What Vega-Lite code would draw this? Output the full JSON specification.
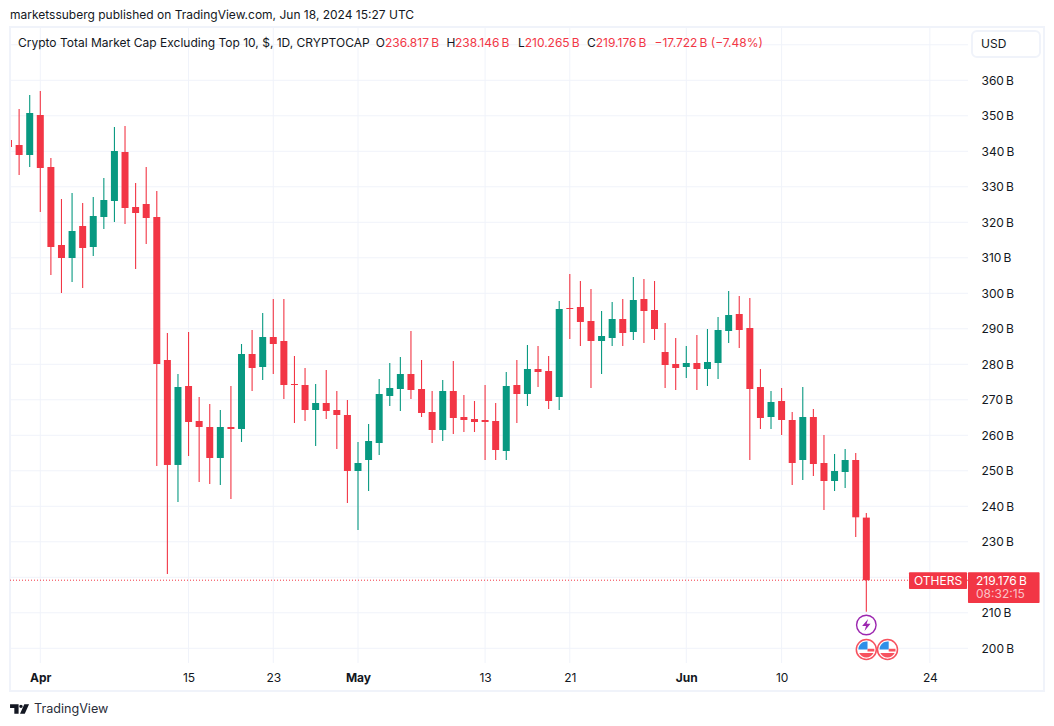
{
  "$schema": "https://vega.github.io/schema/vega-lite/v6.json",
  "autosize": {"type": "fit", "contains": "padding"},
  "padding": 0,
  "width": 1054,
  "height": 726,
  "background": "#ffffff",
  "config": {"font": "Inter", "view": {"stroke": null}},
  "datasets": {
    "candles": [
      {"date": "2024-03-29", "open": 343.18, "high": 344.5, "low": 340.0, "close": 341.21},
      {"date": "2024-03-30", "open": 341.77, "high": 351.92, "low": 333.32, "close": 338.96},
      {"date": "2024-03-31", "open": 338.96, "high": 355.86, "low": 335.58, "close": 350.79},
      {"date": "2024-04-01", "open": 350.23, "high": 356.99, "low": 322.9, "close": 335.3},
      {"date": "2024-04-02", "open": 335.58, "high": 338.11, "low": 305.16, "close": 313.04},
      {"date": "2024-04-03", "open": 313.61, "high": 326.56, "low": 300.08, "close": 309.94},
      {"date": "2024-04-04", "open": 309.94, "high": 328.25, "low": 303.18, "close": 317.55},
      {"date": "2024-04-05", "open": 318.96, "high": 325.44, "low": 301.49, "close": 312.76},
      {"date": "2024-04-06", "open": 313.04, "high": 327.13, "low": 310.51, "close": 321.77},
      {"date": "2024-04-07", "open": 321.49, "high": 332.48, "low": 318.11, "close": 326.28},
      {"date": "2024-04-08", "open": 326.0, "high": 346.85, "low": 320.08, "close": 340.08},
      {"date": "2024-04-09", "open": 339.8, "high": 347.13, "low": 319.52, "close": 324.03},
      {"date": "2024-04-10", "open": 324.31, "high": 331.07, "low": 306.85, "close": 322.62},
      {"date": "2024-04-11", "open": 325.16, "high": 335.58, "low": 313.89, "close": 321.21},
      {"date": "2024-04-12", "open": 321.49, "high": 328.82, "low": 251.36, "close": 280.09},
      {"date": "2024-04-13", "open": 281.21, "high": 288.82, "low": 220.93, "close": 251.64},
      {"date": "2024-04-14", "open": 251.64, "high": 277.27, "low": 241.21, "close": 273.61},
      {"date": "2024-04-15", "open": 273.89, "high": 289.1, "low": 254.17, "close": 263.75},
      {"date": "2024-04-16", "open": 264.03, "high": 270.79, "low": 246.85, "close": 262.34},
      {"date": "2024-04-17", "open": 262.34, "high": 268.82, "low": 246.29, "close": 253.61},
      {"date": "2024-04-18", "open": 253.61, "high": 267.13, "low": 246.0, "close": 262.34},
      {"date": "2024-04-19", "open": 262.34, "high": 273.89, "low": 242.06, "close": 261.78},
      {"date": "2024-04-20", "open": 261.78, "high": 285.72, "low": 258.12, "close": 282.9},
      {"date": "2024-04-21", "open": 282.9, "high": 289.67, "low": 272.48, "close": 278.96},
      {"date": "2024-04-22", "open": 279.24, "high": 294.45, "low": 275.58, "close": 287.69},
      {"date": "2024-04-23", "open": 287.69, "high": 298.4, "low": 277.27, "close": 285.72},
      {"date": "2024-04-24", "open": 286.57, "high": 298.4, "low": 270.23, "close": 274.17},
      {"date": "2024-04-25", "open": 274.45, "high": 282.34, "low": 263.47, "close": 274.17},
      {"date": "2024-04-26", "open": 274.17, "high": 278.96, "low": 264.03, "close": 267.13},
      {"date": "2024-04-27", "open": 267.13, "high": 274.45, "low": 256.99, "close": 269.1},
      {"date": "2024-04-28", "open": 269.1, "high": 278.4, "low": 264.6, "close": 266.85},
      {"date": "2024-04-29", "open": 267.13, "high": 272.48, "low": 256.14, "close": 265.72},
      {"date": "2024-04-30", "open": 265.72, "high": 269.95, "low": 240.93, "close": 249.95},
      {"date": "2024-05-01", "open": 249.94, "high": 258.11, "low": 233.32, "close": 252.2},
      {"date": "2024-05-02", "open": 253.04, "high": 263.18, "low": 244.31, "close": 258.39},
      {"date": "2024-05-03", "open": 257.83, "high": 275.86, "low": 254.45, "close": 271.63},
      {"date": "2024-05-04", "open": 271.07, "high": 280.37, "low": 268.25, "close": 273.32},
      {"date": "2024-05-05", "open": 273.04, "high": 282.06, "low": 266.84, "close": 277.27},
      {"date": "2024-05-06", "open": 277.27, "high": 289.38, "low": 270.23, "close": 272.76},
      {"date": "2024-05-07", "open": 273.04, "high": 281.21, "low": 265.15, "close": 266.28},
      {"date": "2024-05-08", "open": 266.56, "high": 272.48, "low": 257.83, "close": 261.49},
      {"date": "2024-05-09", "open": 261.49, "high": 275.58, "low": 258.39, "close": 272.48},
      {"date": "2024-05-10", "open": 272.48, "high": 280.93, "low": 260.37, "close": 264.87},
      {"date": "2024-05-11", "open": 265.15, "high": 271.35, "low": 260.93, "close": 264.31},
      {"date": "2024-05-12", "open": 264.59, "high": 269.66, "low": 260.93, "close": 263.75},
      {"date": "2024-05-13", "open": 264.31, "high": 274.17, "low": 253.04, "close": 263.75},
      {"date": "2024-05-14", "open": 264.03, "high": 269.1, "low": 253.04, "close": 255.86},
      {"date": "2024-05-15", "open": 255.58, "high": 277.83, "low": 253.04, "close": 273.89},
      {"date": "2024-05-16", "open": 274.17, "high": 281.21, "low": 263.46, "close": 271.63},
      {"date": "2024-05-17", "open": 271.63, "high": 285.44, "low": 268.25, "close": 278.68},
      {"date": "2024-05-18", "open": 278.68, "high": 285.15, "low": 273.61, "close": 277.83},
      {"date": "2024-05-19", "open": 278.11, "high": 282.34, "low": 267.41, "close": 269.66},
      {"date": "2024-05-20", "open": 270.79, "high": 297.83, "low": 267.13, "close": 295.58},
      {"date": "2024-05-21", "open": 295.86, "high": 305.44, "low": 287.13, "close": 295.58},
      {"date": "2024-05-22", "open": 296.14, "high": 303.46, "low": 285.15, "close": 291.92},
      {"date": "2024-05-23", "open": 292.2, "high": 301.21, "low": 273.32, "close": 286.56},
      {"date": "2024-05-24", "open": 286.56, "high": 295.01, "low": 277.27, "close": 287.97},
      {"date": "2024-05-25", "open": 287.41, "high": 297.55, "low": 285.15, "close": 292.76},
      {"date": "2024-05-26", "open": 292.76, "high": 298.39, "low": 285.15, "close": 288.82},
      {"date": "2024-05-27", "open": 289.1, "high": 304.59, "low": 286.84, "close": 298.11},
      {"date": "2024-05-28", "open": 298.39, "high": 304.03, "low": 286.0, "close": 295.01},
      {"date": "2024-05-29", "open": 295.3, "high": 303.46, "low": 286.84, "close": 289.94},
      {"date": "2024-05-30", "open": 283.46, "high": 291.63, "low": 273.32, "close": 279.8},
      {"date": "2024-05-31", "open": 280.08, "high": 287.41, "low": 272.76, "close": 278.96},
      {"date": "2024-06-01", "open": 279.24, "high": 285.15, "low": 276.14, "close": 280.37},
      {"date": "2024-06-02", "open": 280.36, "high": 288.25, "low": 272.76, "close": 278.67},
      {"date": "2024-06-03", "open": 278.67, "high": 289.94, "low": 273.88, "close": 280.64},
      {"date": "2024-06-04", "open": 280.36, "high": 293.32, "low": 275.86, "close": 289.66},
      {"date": "2024-06-05", "open": 289.38, "high": 300.64, "low": 286.0, "close": 293.88},
      {"date": "2024-06-06", "open": 294.17, "high": 299.24, "low": 284.59, "close": 289.66},
      {"date": "2024-06-07", "open": 290.22, "high": 298.67, "low": 253.04, "close": 273.04},
      {"date": "2024-06-08", "open": 273.6, "high": 278.67, "low": 261.77, "close": 264.87},
      {"date": "2024-06-09", "open": 265.15, "high": 272.48, "low": 261.77, "close": 269.38},
      {"date": "2024-06-10", "open": 269.66, "high": 273.32, "low": 260.08, "close": 264.31},
      {"date": "2024-06-11", "open": 264.31, "high": 266.56, "low": 246.0, "close": 252.19},
      {"date": "2024-06-12", "open": 253.04, "high": 273.6, "low": 247.41, "close": 265.15},
      {"date": "2024-06-13", "open": 265.15, "high": 267.41, "low": 248.53, "close": 251.91},
      {"date": "2024-06-14", "open": 252.19, "high": 260.08, "low": 238.95, "close": 247.12},
      {"date": "2024-06-15", "open": 247.12, "high": 254.73, "low": 244.31, "close": 249.94},
      {"date": "2024-06-16", "open": 249.66, "high": 256.14, "low": 245.15, "close": 253.04},
      {"date": "2024-06-17", "open": 253.04, "high": 255.01, "low": 231.35, "close": 236.9},
      {"date": "2024-06-18", "open": 236.817, "high": 238.146, "low": 210.265, "close": 219.176}
    ],
    "notes": [
      {"at": "2024-03-29T03:22:00Z", "price": 378.4, "label": "marketssuberg published on TradingView.com, Jun 18, 2024 15:27 UTC", "tone": "ink"},
      {"at": "2024-03-29T21:27:00Z", "price": 370.5, "label": "Crypto Total Market Cap Excluding Top 10, $, 1D, CRYPTOCAP", "tone": "ink"},
      {"at": "2024-05-02T16:00:00Z", "price": 370.5, "label": "O", "tone": "ink"},
      {"at": "2024-05-03T13:00:00Z", "price": 370.5, "label": "236.817\u2009B", "tone": "red"},
      {"at": "2024-05-09T08:40:00Z", "price": 370.5, "label": "H", "tone": "ink"},
      {"at": "2024-05-10T03:50:00Z", "price": 370.5, "label": "238.146\u2009B", "tone": "red"},
      {"at": "2024-05-16T02:30:00Z", "price": 370.5, "label": "L", "tone": "ink"},
      {"at": "2024-05-16T17:45:00Z", "price": 370.5, "label": "210.265\u2009B", "tone": "red"},
      {"at": "2024-05-22T15:00:00Z", "price": 370.5, "label": "C", "tone": "ink"},
      {"at": "2024-05-23T10:50:00Z", "price": 370.5, "label": "219.176\u2009B", "tone": "red"},
      {"at": "2024-05-29T00:00:00Z", "price": 370.5, "label": "−17.722\u2009B (−7.48%)", "tone": "red"},
      {"at": "2024-06-28T19:55:00Z", "price": 370.2, "label": "USD", "tone": "ink"},
      {"at": "2024-06-22T12:00:00Z", "price": 218.96, "label": "OTHERS", "tone": "white"},
      {"at": "2024-06-28T08:38:00Z", "price": 218.96, "label": "219.176\u2009B", "tone": "white"},
      {"at": "2024-06-28T08:38:00Z", "price": 215.3, "label": "08:32:15", "tone": "pink"}
    ],
    "flags": [
      {"date": "2024-06-18", "price": 199.66},
      {"date": "2024-06-20", "price": 199.66}
    ]
  },
  "layer": [
    {
      "data": {"values": [
        {"level": 200}, {"level": 210}, {"level": 220}, {"level": 230}, {"level": 240}, {"level": 250},
        {"level": 260}, {"level": 270}, {"level": 280}, {"level": 290}, {"level": 300}, {"level": 310},
        {"level": 320}, {"level": 330}, {"level": 340}, {"level": 350}, {"level": 360}, {"level": 370}
      ]},
      "mark": {"type": "rule", "stroke": "#f0f3fa", "strokeWidth": 1},
      "encoding": {
        "x": {
          "datum": {"year": 2024, "month": 3, "date": 29, "hours": 3, "minutes": 22, "utc": true},
          "type": "temporal",
          "title": null,
          "scale": {"type": "utc", "nice": false, "domain": [{"year": 2024, "month": 3, "date": 28, "hours": 16, "utc": true}, {"year": 2024, "month": 7, "date": 5, "hours": 6, "utc": true}]},
          "axis": {
            "orient": "bottom",
            "offset": -63,
            "values": [
              {"year": 2024, "month": 4, "date": 1, "utc": true},
              {"year": 2024, "month": 4, "date": 15, "utc": true},
              {"year": 2024, "month": 4, "date": 23, "utc": true},
              {"year": 2024, "month": 5, "date": 1, "utc": true},
              {"year": 2024, "month": 5, "date": 13, "utc": true},
              {"year": 2024, "month": 5, "date": 21, "utc": true},
              {"year": 2024, "month": 6, "date": 1, "utc": true},
              {"year": 2024, "month": 6, "date": 10, "utc": true},
              {"year": 2024, "month": 6, "date": 24, "utc": true}
            ],
            "labelExpr": "utcdate(datum.value) == 1 ? utcFormat(datum.value, '%b') : utcFormat(datum.value, '%-d')",
            "labelFontWeight": {"condition": {"test": "utcdate(datum.value) == 1", "value": "bold"}, "value": "normal"},
            "labelFontSize": 12,
            "labelColor": "#131722",
            "labelPadding": 9,
            "labelOverlap": false,
            "labelFlush": false,
            "grid": false,
            "ticks": false,
            "domain": false
          }
        },
        "x2": {"datum": {"year": 2024, "month": 6, "date": 27, "hours": 14, "minutes": 24, "utc": true}},
        "y": {
          "field": "level",
          "type": "quantitative",
          "title": null,
          "scale": {"nice": false, "domain": [178.11, 382.62]},
          "axis": {
            "orient": "right",
            "offset": -81,
            "values": [200, 210, 230, 240, 250, 260, 270, 280, 290, 300, 310, 320, 330, 340, 350, 360],
            "labelExpr": "datum.value + '\u2009B'",
            "labelFontSize": 12,
            "labelColor": "#131722",
            "labelPadding": 8,
            "labelOverlap": false,
            "labelFlush": false,
            "grid": false,
            "ticks": false,
            "domain": false
          }
        }
      }
    },
    {
      "data": {"values": [
        {"tick": "2024-04-01"}, {"tick": "2024-04-15"}, {"tick": "2024-04-23"}, {"tick": "2024-05-01"}, {"tick": "2024-05-13"},
        {"tick": "2024-05-21"}, {"tick": "2024-06-01"}, {"tick": "2024-06-10"}, {"tick": "2024-06-24"}
      ]},
      "mark": {"type": "rule", "stroke": "#f0f3fa", "strokeWidth": 1},
      "encoding": {
        "x": {"field": "tick", "type": "temporal", "title": null},
        "y": {"datum": 375.01, "type": "quantitative", "title": null},
        "y2": {"datum": 195.86}
      }
    },
    {
      "data": {"name": "candles"},
      "mark": {"type": "rule", "strokeWidth": 1.1},
      "encoding": {
        "x": {"field": "date", "type": "temporal", "title": null},
        "y": {"field": "low", "type": "quantitative", "title": null},
        "y2": {"field": "high"},
        "color": {"condition": {"test": "datum.close >= datum.open", "value": "#089981"}, "value": "#f23645"}
      }
    },
    {
      "data": {"name": "candles"},
      "mark": {"type": "bar", "size": 7},
      "encoding": {
        "x": {"field": "date", "type": "temporal", "title": null},
        "y": {"field": "open", "type": "quantitative", "title": null},
        "y2": {"field": "close"},
        "color": {"condition": {"test": "datum.close >= datum.open", "value": "#089981"}, "value": "#f23645"}
      }
    },
    {
      "data": {"values": [{"from": "2024-03-28T16:00:00Z", "to": "2024-03-29T03:22:00Z", "top": 382.62, "bottom": 178.11}], "format": {"parse": {"from": "date", "to": "date"}}},
      "mark": {"type": "rect", "fill": "#ffffff"},
      "encoding": {
        "x": {"field": "from", "type": "temporal", "title": null},
        "x2": {"field": "to"},
        "y": {"field": "top", "type": "quantitative", "title": null},
        "y2": {"field": "bottom"}
      }
    },
    {
      "data": {"values": [{"from": "2024-03-29T03:22:00Z", "to": "2024-07-04T18:43:00Z", "top": 375.01, "bottom": 187.97}], "format": {"parse": {"from": "date", "to": "date"}}},
      "mark": {"type": "rect", "fill": null, "stroke": "#f0f3fa", "strokeWidth": 2},
      "encoding": {
        "x": {"field": "from", "type": "temporal", "title": null},
        "x2": {"field": "to"},
        "y": {"field": "top", "type": "quantitative", "title": null},
        "y2": {"field": "bottom"}
      }
    },
    {
      "data": {"values": [{"from": "2024-06-27T23:30:00Z", "to": "2024-07-04T09:40:00Z", "top": 373.89, "bottom": 366.56}], "format": {"parse": {"from": "date", "to": "date"}}},
      "mark": {"type": "rect", "fill": "#ffffff", "stroke": "#f0f3fa", "strokeWidth": 2, "cornerRadius": 5},
      "encoding": {
        "x": {"field": "from", "type": "temporal", "title": null},
        "x2": {"field": "to"},
        "y": {"field": "top", "type": "quantitative", "title": null},
        "y2": {"field": "bottom"}
      }
    },
    {
      "data": {"values": [{"last": 219.176}]},
      "mark": {"type": "rule", "stroke": "#f23645", "strokeWidth": 1, "strokeDash": [1, 2]},
      "encoding": {
        "x": {"datum": {"year": 2024, "month": 3, "date": 29, "hours": 3, "minutes": 22, "utc": true}, "type": "temporal", "title": null},
        "x2": {"datum": {"year": 2024, "month": 6, "date": 27, "hours": 14, "minutes": 24, "utc": true}},
        "y": {"field": "last", "type": "quantitative", "title": null}
      }
    },
    {
      "data": {"values": [
        {"from": "2024-06-22T00:43:00Z", "to": "2024-06-27T12:14:00Z", "top": 221.41, "bottom": 216.7},
        {"from": "2024-06-27T14:24:00Z", "to": "2024-07-04T08:38:00Z", "top": 221.41, "bottom": 212.76}
      ], "format": {"parse": {"from": "date", "to": "date"}}},
      "mark": {"type": "rect", "fill": "#f23645", "cornerRadius": 1},
      "encoding": {
        "x": {"field": "from", "type": "temporal", "title": null},
        "x2": {"field": "to"},
        "y": {"field": "top", "type": "quantitative", "title": null},
        "y2": {"field": "bottom"}
      }
    },
    {
      "data": {"name": "notes"},
      "mark": {"type": "text", "align": "left", "baseline": "middle", "fontSize": 12},
      "encoding": {
        "x": {"field": "at", "type": "temporal", "title": null},
        "y": {"field": "price", "type": "quantitative", "title": null},
        "text": {"field": "label"},
        "color": {"field": "tone", "type": "nominal", "legend": null, "scale": {"domain": ["ink", "red", "white", "pink"], "range": ["#131722", "#f23645", "#ffffff", "#fbc2c7"]}}
      }
    },
    {
      "data": {"values": [{"at": "2024-03-31T09:43:00Z", "price": 182.9, "label": "TradingView"}]},
      "mark": {"type": "text", "align": "left", "baseline": "middle", "fontSize": 12.6, "color": "#2a2e39"},
      "encoding": {
        "x": {"field": "at", "type": "temporal", "title": null},
        "y": {"field": "price", "type": "quantitative", "title": null},
        "text": {"field": "label"}
      }
    },
    {
      "data": {"values": [{"date": "2024-06-18", "price": 206.56}]},
      "mark": {"type": "point", "shape": "circle", "fill": "#ffffff", "stroke": "#9c27b0", "strokeWidth": 1.4, "size": 380, "opacity": 1},
      "encoding": {"x": {"field": "date", "type": "temporal", "title": null}, "y": {"field": "price", "type": "quantitative", "title": null}}
    },
    {
      "data": {"values": [{"date": "2024-06-18", "price": 206.56}]},
      "mark": {"type": "point", "shape": "M0.3,-1L-0.7,0.15H-0.05L-0.3,1L0.7,-0.2H0.05Z", "filled": true, "fill": "#9c27b0", "size": 144, "opacity": 1},
      "encoding": {"x": {"field": "date", "type": "temporal", "title": null}, "y": {"field": "price", "type": "quantitative", "title": null}}
    },
    {
      "data": {"name": "flags"},
      "mark": {"type": "point", "shape": "circle", "fill": "#ffffff", "stroke": "#f7525f", "strokeWidth": 1.5, "size": 400, "opacity": 1},
      "encoding": {"x": {"field": "date", "type": "temporal", "title": null}, "y": {"field": "price", "type": "quantitative", "title": null}}
    },
    {
      "data": {"name": "flags"},
      "mark": {"type": "point", "shape": "M0.15,-0.99V0H-1A1,1 0 0 1 0.15,-0.99Z", "filled": true, "fill": "#2f8fe8", "size": 256, "opacity": 1},
      "encoding": {"x": {"field": "date", "type": "temporal", "title": null}, "y": {"field": "price", "type": "quantitative", "title": null}}
    },
    {
      "data": {"name": "flags"},
      "mark": {"type": "point", "shape": "M0.15,-0.1H1V0.25H0.15ZM-0.9,0.45H0.9A1,1 0 0 1 -0.9,0.45Z", "filled": true, "fill": "#f7525f", "size": 256, "opacity": 1},
      "encoding": {"x": {"field": "date", "type": "temporal", "title": null}, "y": {"field": "price", "type": "quantitative", "title": null}}
    },
    {
      "data": {"values": [{"date": "2024-03-30T00:58:00Z", "price": 182.9}], "format": {"parse": {"date": "date"}}},
      "mark": {"type": "point", "shape": "M-1,-0.5H-0.1V0.5H-0.55V-0.1H-1ZM-0.03,-0.28A0.18,0.18 0 1 0 0.33,-0.28A0.18,0.18 0 1 0 -0.03,-0.28ZM0.5,-0.5H1L0.55,0.5H0.05Z", "filled": true, "fill": "#131722", "size": 361, "opacity": 1},
      "encoding": {"x": {"field": "date", "type": "temporal", "title": null}, "y": {"field": "price", "type": "quantitative", "title": null}}
    }
  ]
}
